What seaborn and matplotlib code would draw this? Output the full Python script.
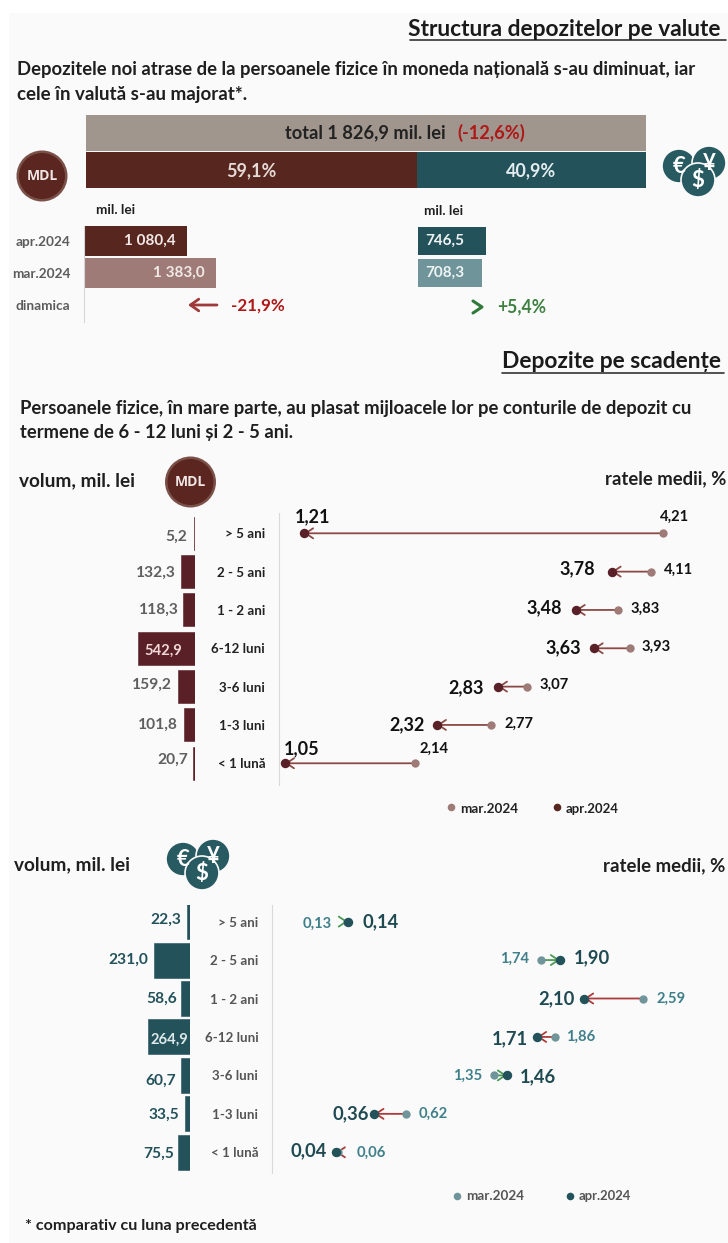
import numpy as np
import pandas as pd
import matplotlib
matplotlib.use("Agg")
import matplotlib.pyplot as plt
from matplotlib.patches import Circle, Rectangle
import seaborn as sns

# ---------- data ----------
share_labels = ["59,1%", "40,9%"]
share_values = [59.1, 40.9]
total_label = "total 1 826,9 mil. lei"
total_change = "(-12,6%)"
months = ["apr.2024", "mar.2024", "dinamica"]
mdl_total = [1080.4, 1383.0]
fx_total = [746.5, 708.3]
mdl_change = "-21,9%"
fx_change = "+5,4%"

terms = ["> 5 ani", "2 - 5 ani", "1 - 2 ani", "6-12 luni", "3-6 luni", "1-3 luni", "< 1 lună"]
mdl_volume = [5.2, 132.3, 118.3, 542.9, 159.2, 101.8, 20.7]
mdl_mar = [4.21, 4.11, 3.83, 3.93, 3.07, 2.77, 2.14]
mdl_apr = [1.21, 3.78, 3.48, 3.63, 2.83, 2.32, 1.05]
fx_volume = [22.3, 231.0, 58.6, 264.9, 60.7, 33.5, 75.5]
fx_mar = [0.13, 1.74, 2.59, 1.86, 1.35, 0.62, 0.06]
fx_apr = [0.14, 1.90, 2.10, 1.71, 1.46, 0.36, 0.04]

# ---------- layout tweaks (pixels) ----------
mdl_apr_off = [(8.4, 16.3), (-34.5, 2.7), (-31, 2.3), (-30.6, 0.6), (-31.3, -1), (-30, 0), (16.4, 14.7)]
mdl_mar_off = [(11.5, 16.3), (27.7, 1.7), (27.5, 1), (27, 1.6), (28, 1.7), (28, 0.7), (18.7, 14)]
fx_apr_off = [(32.3, 0), (32, 2.3), (-27.4, 0), (-27, -2), (31, -1), (-24, 0), (-26.8, 2)]
fx_mar_off = [(-29.7, -2.3), (-26.3, 1), (28.3, 0), (26, 0), (-25.7, 0), (28, 0), (33, 0)]
mdl_bar_off = [(-7.5, -3.7), (-5.6, -1.3), (-3.6, 0), (44, -2.7), (-6.3, 1.7), (-6.3, 0), (-4.8, 3)]
fx_bar_off = [(-5.8, 1.7), (-5.2, 0.3), (-4, 0), (39.6, -3), (-4.3, -5.7), (-6, -0.7), (-3.8, -1.7)]

# ---------- colours ----------
MAROON, TEAL = "#57261f", "#23525b"
MAROON_L, TEAL_L = "#9e7b76", "#6f959b"
GREY_BAR = "#a0968d"
BG = "#fafafa"
DARK = "#1f1f1f"
RED, GREEN = "#a52a2a", "#3e8040"

W, H = 728, 1243
sns.set_theme(style="white")
plt.rcParams["font.family"] = ["Lato", "DejaVu Sans"]
plt.rcParams["font.weight"] = "bold"
fig = plt.figure(figsize=(W / 100, H / 100), dpi=100, facecolor="white")


def axes_px(left, top, right, bottom, z=1):
    ax = fig.add_axes([left / W, 1 - bottom / H, (right - left) / W, (bottom - top) / H], zorder=z)
    ax.patch.set_alpha(0)
    return ax


bg = axes_px(9, 13, W, H, z=0)
bg.patch.set_alpha(1)
bg.patch.set_facecolor(BG)
bg.set_xticks([]); bg.set_yticks([])
for s in bg.spines.values():
    s.set_visible(False)

ov = axes_px(0, 0, W, H, z=5)
ov.set_xlim(0, W); ov.set_ylim(H, 0); ov.axis("off")
renderer = fig.canvas.get_renderer()


def txt(x, y, s, size=10, color=DARK, ha="left", **kw):
    return ov.text(x, y, s, fontsize=size, color=color, ha=ha, va="center", fontweight="bold", **kw)


def fit(x0, x1, y, s, color=DARK, size=10):
    t = txt(x0, y, s, size=size, color=color)
    w = t.get_window_extent(renderer).width
    t.set_fontsize(size * (x1 - x0) / w)
    return t


def coin_mdl(cx, cy):
    ov.add_patch(Circle((cx, cy), 25.5, fc="#7a5148", ec="none"))
    ov.add_patch(Circle((cx, cy), 23, fc="#5a261f", ec="none"))
    ov.text(cx, cy, "MDL", fontsize=10, color="#efe6e4", ha="center", va="center", fontweight="bold",
            family="Open Sans")


def coin_fx(cx, cy):
    for dx, dy, sym in [(-14, -6, "€"), (16, -9, "¥"), (5, 8, "$")]:
        ov.add_patch(Circle((cx + dx, cy + dy), 17, fc="#285a61", ec=BG, lw=1.2))
        txt(cx + dx, cy + dy, sym, size=16, color="white", ha="center")


# ---------- headings ----------
fit(408, 724, 29, "Structura depozitelor pe valute", color="#1a1a1a")
ov.plot([410, 726], [40, 40], color="#333333", lw=1.2)
fit(17, 698, 69, "Depozitele noi atrase de la persoanele fizice în moneda națională s-au diminuat, iar")
fit(17, 247, 94, "cele în valută s-au majorat*.")
fit(502, 722, 361, "Depozite pe scadențe", color="#1a1a1a")
ov.plot([502, 724], [373, 373], color="#333333", lw=1.2)
fit(20, 695, 408, "Persoanele fizice, în mare parte, au plasat mijloacele lor pe conturile de depozit cu")
fit(20, 292, 432, "termene de 6 - 12 luni și 2 - 5 ani.")
fit(19, 135, 481, "volum, mil. lei")
fit(605, 727, 479, "ratele medii, %")
fit(14, 130, 865, "volum, mil. lei")
fit(603, 726, 866, "ratele medii, %")
fit(25, 258, 1226, "* comparativ cu luna precedentă")

# ---------- share bars ----------
a = axes_px(86, 114, 645.5, 188.5)
a.barh([0], [sum(share_values)], height=0.97, color=GREY_BAR, linewidth=0)
a.barh([1], [share_values[0]], height=0.97, color=MAROON, linewidth=0)
a.barh([1], [share_values[1]], left=[share_values[0]], height=0.97, color=TEAL, linewidth=0)
a.set_xlim(0, sum(share_values)); a.set_ylim(1.5, -0.5); a.axis("off")
fit(285, 446, 133, total_label, color="#222222")
fit(457, 525, 133, total_change, color="#b01818")
txt(251, 170.5, share_labels[0], size=13, color="#e6dad6", ha="center")
txt(531.5, 170.5, share_labels[1], size=13, color="#e3ecee", ha="center")
coin_mdl(42, 176)
coin_fx(693, 172)

# ---------- monthly totals ----------
txt(96.5, 210, "mil. lei", size=9.8)
txt(423.5, 211, "mil. lei", size=9.8)

a = axes_px(84, 226, 320, 322)
sns.barplot(x=mdl_total, y=months[:2], order=months, hue=months[:2], palette=[MAROON, MAROON_L],
            width=0.95, legend=False, ax=a, saturation=1, linewidth=0)
a.set_xlim(0, (320 - 84) / 0.0952); a.set_ylim(2.53, -0.47)
a.set_xticks([]); a.set_yticks(range(3), labels=months)
a.tick_params(axis="y", length=0, pad=10, labelsize=9.8, labelcolor="#5c5c5c")
a.set_xlabel(""); a.set_ylabel("")
sns.despine(ax=a, bottom=True)
a.spines["left"].set_color("#d6d6d6")
a.spines["left"].set_linewidth(0.8)
for v, i in zip(mdl_total, range(2)):
    s = f"{v:,.1f}".replace(",", " ").replace(".", ",")
    a.annotate(s, (v, i), xytext=(-11, 0), textcoords="offset pixels", ha="right", va="center",
               color="#f1e9e7", fontsize=11, fontweight="bold")

a = axes_px(418, 226, 640, 322)
sns.barplot(x=fx_total, y=months[:2], order=months, hue=months[:2], palette=[TEAL, TEAL_L],
            width=0.88, legend=False, ax=a, saturation=1, linewidth=0)
a.set_xlim(0, (640 - 418) / 0.091); a.set_ylim(2.53, -0.47); a.axis("off")
for v, i in zip(fx_total, range(2)):
    a.annotate(f"{v:.1f}".replace(".", ","), (0, i), xytext=(7, 0), textcoords="offset pixels",
               ha="left", va="center", color="#eef3f4", fontsize=11, fontweight="bold")

ov.annotate("", xy=(188, 305), xytext=(217, 305),
            arrowprops=dict(arrowstyle="->,head_length=0.5,head_width=0.35", color="#a03a3a", lw=2,
                            shrinkA=0, shrinkB=0))
fit(231, 285, 306, mdl_change, color="#b01818")
ov.plot([473, 482, 473], [301, 307, 313], color="#2f7a3a", lw=2.2)
fit(497, 546, 307, fx_change, color=GREEN)


# ---------- term panels ----------
def panel(volume, mar, apr, col, col_l, y0, dy, top, bottom, bar_right, bar_scale, bar_h, axis_x, origin, scale,
          apr_off, mar_off, bar_off, apr_c, mar_c, bar_c, inner_c, apr_size, mar_size, arrow_down, arrow_up, cat_c):
    ylim = ((bottom - y0) / dy, (top - y0) / dy)
    # volume bars
    b = axes_px(90, top, bar_right, bottom, z=2)
    sns.barplot(x=volume, y=terms, order=terms, color=col, saturation=1, width=bar_h / dy, ax=b,
                edgecolor=col, linewidth=0.4)
    b.set_xlim((bar_right - 90) / bar_scale, 0); b.set_ylim(*ylim); b.axis("off")
    for i, (v, off) in enumerate(zip(volume, bar_off)):
        inside = off[0] > 0
        b.annotate(f"{v:.1f}".replace(".", ","), (v, i), xytext=off, textcoords="offset pixels", ha="right",
                   va="center", fontsize=10.6 if inside else 11.2, fontweight="bold", color=inner_c if inside else bar_c)
    # rates
    d = axes_px(axis_x, top, W, bottom, z=3)
    pos = np.arange(len(terms))
    sns.scatterplot(x=mar, y=pos, color=col_l, s=36, linewidth=0, ax=d, zorder=3, legend=False)
    sns.scatterplot(x=apr, y=pos, color=col, s=46, linewidth=0, ax=d, zorder=4, legend=False)
    d.set_xlim((axis_x - origin) / scale, (W - origin) / scale); d.set_ylim(*ylim)
    d.set_xticks([]); d.set_yticks(pos, labels=terms)
    d.tick_params(axis="y", length=0, pad=9.6, labelsize=9.6, labelcolor=cat_c)
    d.set_xlabel(""); d.set_ylabel("")
    sns.despine(ax=d, bottom=True)
    d.spines["left"].set_color("#d9d9d9")
    d.spines["left"].set_linewidth(0.8)
    for i in pos:
        c = arrow_down if apr[i] < mar[i] else arrow_up
        d.annotate("", xy=(apr[i], i), xytext=(mar[i], i), zorder=2,
                   arrowprops=dict(arrowstyle="->,head_length=0.45,head_width=0.3", color=c, lw=1.3,
                                   shrinkA=0, shrinkB=0))
        d.annotate(f"{apr[i]:.2f}".replace(".", ","), (apr[i], i), xytext=apr_off[i], textcoords="offset pixels",
                   ha="center", va="center", color=apr_c, fontsize=apr_size, fontweight="bold", annotation_clip=False)
        d.annotate(f"{mar[i]:.2f}".replace(".", ","), (mar[i], i), xytext=mar_off[i], textcoords="offset pixels",
                   ha="center", va="center", color=mar_c, fontsize=mar_size, fontweight="bold", annotation_clip=False)


panel(mdl_volume, mdl_mar, mdl_apr, "#5a2027", MAROON_L, 533.3, 38.33, 513, 785, 195, 0.105, 33, 278.5, 159.2, 119.67,
      mdl_apr_off, mdl_mar_off, mdl_bar_off, "#111111", "#111111", "#5f5f5f", "#f0d8d8", 13, 10.6,
      "#8c4a46", "#8c4a46", "#222222")
panel(fx_volume, fx_mar, fx_apr, TEAL, TEAL_L, 921.6, 38.45, 905, 1173, 190.3, 0.158, 35, 271.6, 331, 120.5,
      fx_apr_off, fx_mar_off, fx_bar_off, "#1f4a52", "#3f7f8a", "#23525b", "#dfe9ea", 13.2, 10.6,
      "#ad3b3b", "#4a9a55", "#555555")

coin_mdl(190.5, 482)
coin_fx(197, 865)

# ---------- legends ----------
ov.scatter([451], [806.5], s=30, color=MAROON_L, linewidth=0)
fit(460.5, 518.5, 809, "mar.2024", color="#222222")
ov.scatter([557], [806.5], s=30, color=MAROON, linewidth=0)
fit(565.5, 619, 809, "apr.2024", color="#222222")
ov.scatter([457], [1196], s=30, color=TEAL_L, linewidth=0)
fit(466.5, 524.5, 1196, "mar.2024", color="#555555")
ov.scatter([569.5], [1196], s=30, color=TEAL, linewidth=0)
fit(579, 632, 1196, "apr.2024", color="#555555")

fig.savefig("out.png", dpi=100)
